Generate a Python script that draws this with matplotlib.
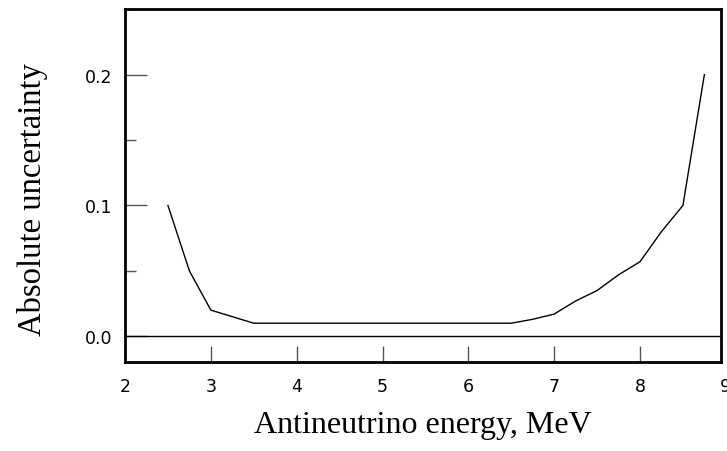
import matplotlib
matplotlib.use("Agg")
import matplotlib.pyplot as plt
from matplotlib.ticker import MultipleLocator

energy = [2.5, 2.75, 3.0, 3.5, 4.0, 4.5, 5.0, 5.5, 6.0, 6.5, 6.75, 7.0, 7.25, 7.5, 7.75, 8.0, 8.25, 8.5, 8.75]
uncert = [0.100, 0.050, 0.020, 0.010, 0.010, 0.010, 0.010, 0.010, 0.010, 0.010, 0.013, 0.017, 0.027, 0.035, 0.047, 0.057, 0.080, 0.100, 0.200]
xticks = [2, 3, 4, 5, 6, 7, 8]
yticks = [0.0, 0.1, 0.2]
ytick_labels = ["0.0", "0.1", "0.2"]

TICKFONT = "DejaVu Sans"
TICKSIZE = 12.5
XPAD = 11

fig = plt.figure(figsize=(7.27, 4.52), dpi=100)
ax = fig.add_axes([0.172, 0.1976, 0.8193, 0.7803])
ax.plot(energy, uncert, color="black", lw=1.0)
ax.axhline(0.0, color="black", lw=1.0)
ax.set_xlim(2, 8.94)
ax.set_ylim(-0.0194, 0.2502)
ax.set_xticks(xticks)
ax.set_yticks(yticks)
ax.set_yticklabels(ytick_labels)
ax.yaxis.set_minor_locator(MultipleLocator(0.05))
for s in ax.spines.values():
    s.set_linewidth(2.0)
ax.tick_params(axis="y", which="major", direction="in", length=16, width=1, color="#555555", pad=9, labelsize=TICKSIZE)
ax.tick_params(axis="y", which="minor", direction="in", length=8, width=1, color="#555555")
ax.tick_params(axis="x", which="major", direction="in", length=11.5, width=1, color="#555555", pad=XPAD, labelsize=TICKSIZE)
for lab in ax.get_xticklabels() + ax.get_yticklabels():
    lab.set_fontfamily(TICKFONT)
ax.annotate("9", xy=(9, 0), xycoords=("data", "axes fraction"),
            xytext=(0, -XPAD), textcoords="offset points",
            ha="center", va="top", fontsize=TICKSIZE, family=TICKFONT,
            annotation_clip=False)
ax.set_xlabel("Antineutrino energy, MeV", fontsize=23, family="Liberation Serif", labelpad=11)
ax.set_ylabel("Absolute uncertainty", fontsize=23.5, family="Liberation Serif", labelpad=27)
ax.yaxis.label.set_y(0.463)
fig.savefig("out.png", dpi=100)
